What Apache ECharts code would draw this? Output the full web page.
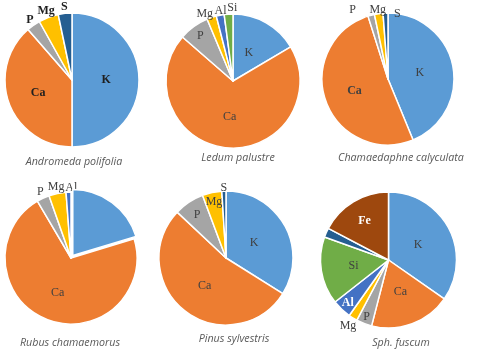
<!DOCTYPE html>
<html>
<head>
<meta charset="utf-8">
<script src="https://cdn.jsdelivr.net/npm/echarts@6/dist/echarts.min.js"></script>
<style>
  html, body { margin: 0; padding: 0; background: #fff; }
  #chart { width: 493px; height: 349px; }
</style>
</head>
<body>
<div id="chart"></div>
<script>
// Element shares (%) of ash composition, per plant species
const andromedaNames = ['K', 'Ca', 'P', 'Mg', 'S'];
const andromedaValues = [50.0, 38.6, 3.3, 4.8, 3.3];

const ledumNames = ['K', 'Ca', 'P', 'Mg', 'Al', 'Si'];
const ledumValues = [16.5, 69.9, 7.3, 2.3, 1.9, 2.1];

const chamaedaphneNames = ['K', 'Ca', 'P', 'Mg', 'S'];
const chamaedaphneValues = [43.8, 51.3, 1.6, 2.1, 1.2];

const rubusNames = ['K', 'Ca', 'P', 'Mg', 'Al'];
const rubusValues = [20.3, 71.2, 3.1, 4.2, 1.2];

const pinusNames = ['K', 'Ca', 'P', 'Mg', 'S'];
const pinusValues = [33.9, 53.1, 7.3, 4.7, 1.0];

const sphagnumNames = ['K', 'Ca', 'P', 'Mg', 'Al', 'Si', 'S', 'Fe'];
const sphagnumValues = [34.7, 19.3, 3.7, 2.1, 4.6, 16.1, 2.2, 17.3];

const speciesTitles = ['Andromeda polifolia', 'Ledum palustre', 'Chamaedaphne calyculata',
                       'Rubus chamaemorus', 'Pinus sylvestris', 'Sph. fuscum'];

// Office palette, one colour per element
const elementColors = {
  K: '#5B9BD5', Ca: '#ED7D31', P: '#A5A5A5', Mg: '#FFC000',
  Al: '#4472C4', Si: '#70AD47', S: '#255E91', Fe: '#9E480E'
};

// Layout of each pie: centre, radius, label distances (fraction of radius),
// label look and title placement
const panels = [
  { names: andromedaNames, values: andromedaValues, cx: 72, cy: 80, r: 67,
    labelAt: { K: 0.51, Ca: 0.54, P: 1.09, Mg: 1.1, S: 1.1 },
    weight: 'bold', color: '#1f1f1f', tx: 69, ty: 151 },
  { names: ledumNames, values: ledumValues, cx: 233, cy: 81, r: 67,
    labelAt: { K: 0.48, Ca: 0.54, P: 0.83, Mg: 1.09, Al: 1.06, Si: 1.07 },
    shift: { Mg: [-5, 2], Al: [1, 0], Si: [4, -2] },
    weight: 'normal', color: '#404040', tx: 233, ty: 147 },
  { names: chamaedaphneNames, values: chamaedaphneValues, cx: 388, cy: 79, r: 66,
    labelAt: { K: 0.49, Ca: 0.54, P: 1.1, Mg: 1.1, S: 1.1 },
    shift: { P: [-17, 1], Mg: [0, 3], S: [12, 7] },
    bold: ['Ca'], weight: 'normal', color: '#404040', tx: 396, ty: 147 },
  { names: rubusNames, values: rubusValues, cx: 71, cy: 258, r: 66,
    labelAt: { K: 0.5, Ca: 0.56, P: 1.1, Mg: 1.1, Al: 1.1 },
    shift: { Al: [3, 2] },
    explode: ['K'], weight: 'normal', color: '#404040', tx: 65, ty: 332 },
  { names: pinusNames, values: pinusValues, cx: 226, cy: 258, r: 67,
    labelAt: { K: 0.48, Ca: 0.52, P: 0.78, Mg: 0.86, S: 1.05 },
    weight: 'normal', color: '#404040', tx: 229, ty: 328 },
  { names: sphagnumNames, values: sphagnumValues, cx: 388.5, cy: 260, r: 68,
    labelAt: { K: 0.49, Ca: 0.5, Fe: 0.68, Si: 0.52, Al: 0.87, P: 0.9, Mg: 1.14 },
    white: ['Fe', 'Al'], bold: ['Fe', 'Al'], weight: 'normal', color: '#404040', tx: 396, ty: 332 }
];

const series = [];
const titles = [];

panels.forEach((p, i) => {
  const baseData = p.names.map((n, k) => ({ name: n, value: p.values[k] }));

  // the visible pie
  series.push({
    type: 'pie',
    center: [p.cx, p.cy],
    radius: [0, p.r],
    startAngle: 90,
    clockwise: true,
    silent: true,
    selectedMode: p.explode ? 'multiple' : false,
    selectedOffset: 3,
    animation: false,
    label: { show: false },
    labelLine: { show: false },
    data: baseData.map(d => ({
      name: d.name, value: d.value,
      selected: !!(p.explode && p.explode.includes(d.name)),
      itemStyle: { color: elementColors[d.name], borderColor: '#ffffff', borderWidth: 1.5 }
    }))
  });

  // transparent rings that carry the slice labels at the wanted distance
  const groups = {};
  Object.keys(p.labelAt).forEach(n => {
    const f = p.labelAt[n];
    (groups[f] = groups[f] || []).push(n);
  });
  Object.keys(groups).forEach(fKey => {
    const dist = parseFloat(fKey) * p.r;
    const mid = dist - 3;
    series.push({
      type: 'pie',
      center: [p.cx, p.cy],
      radius: [Math.max(mid - 10, 0), mid + 10],
      startAngle: 90,
      clockwise: true,
      silent: true,
      animation: false,
      minShowLabelAngle: 0,
      avoidLabelOverlap: false,
      labelLayout: { hideOverlap: false },
      labelLine: { show: false },
      data: baseData.map(d => {
        const shown = groups[fKey].includes(d.name);
        const isWhite = p.white && p.white.includes(d.name);
        const isBold = p.weight === 'bold' || (p.bold && p.bold.includes(d.name));
        return {
          name: d.name, value: d.value,
          itemStyle: { color: 'rgba(0,0,0,0)', borderWidth: 0 },
          label: {
            show: shown,
            position: 'inside',
            overflow: 'none',
            formatter: '{b}',
            fontFamily: 'Liberation Serif',
            fontSize: 12,
            fontWeight: isBold ? 'bold' : 'normal',
            color: isWhite ? '#ffffff' : p.color,
            offset: (p.shift && p.shift[d.name]) || [0, 0]
          }
        };
      })
    });
  });

  titles.push({
    text: speciesTitles[i],
    left: p.tx,
    top: p.ty,
    textAlign: 'center',
    textStyle: {
      fontFamily: 'Open Sans',
      fontStyle: 'italic',
      fontWeight: 'normal',
      fontSize: 10.7,
      color: '#595959'
    }
  });
});

const chart = echarts.init(document.getElementById('chart'), null, { renderer: 'canvas' });
chart.setOption({
  backgroundColor: '#ffffff',
  animation: false,
  title: titles,
  series: series
});
</script>
</body>
</html>
